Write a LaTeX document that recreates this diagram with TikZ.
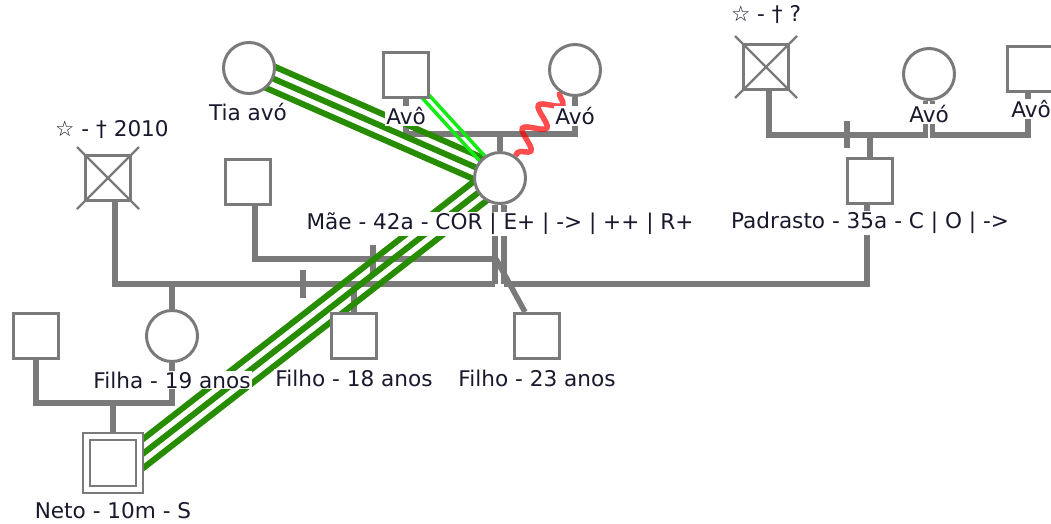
\documentclass[tikz,border=0pt]{standalone}
\usepackage{fontspec}
\setmainfont{DejaVu Sans}
\usetikzlibrary{calc,backgrounds,decorations.pathmorphing}
\definecolor{gline}{RGB}{122,122,122}
\definecolor{dgreen}{RGB}{40,140,0}
\definecolor{lgreen}{RGB}{20,235,20}
\definecolor{txt}{RGB}{25,25,45}
\tikzset{
  person/.style={draw=gline,line width=3pt,fill=white,inner sep=0pt},
  msq/.style={person,rectangle,minimum size=45pt},
  fcirc/.style={person,circle,minimum size=51pt},
  lbl/.style={fill=white,inner sep=1pt,text=txt,font=\fontsize{21.6}{24}\selectfont},
  fam/.style={draw=gline,line width=5.5pt},
  crossx/.style={draw=gline,line width=2.2pt},
  relstrong/.style={draw=dgreen,line width=6pt},
  relclose/.style={draw=lgreen,line width=3.5pt},
  relhostile/.style={draw=red,draw opacity=0.7,line width=5.5pt,decorate,
    decoration={snake,segment length=28pt,amplitude=10pt}},
}
\begin{document}
\begin{tikzpicture}[x=1pt,y=-1pt]
\useasboundingbox (0,0) rectangle (1051,523);
\clip (0,0) rectangle (1051,523);
% --- persons ---
\node[fcirc] (tia) at (249,68) {};
\node[lbl] (tial) at (248,112) {Tia avó};
\node[msq] (avo1) at (406,75) {};
\node[lbl] (avo1l) at (406,116) {Avô};
\node[fcirc] (ava1) at (575,70) {};
\node[lbl] (ava1l) at (575,116) {Avó};
\node[fcirc] (mae) at (500,178) {};
\node[lbl] (mael) at (500,224) {Mãe - 42a - COR | E+ | -> | ++ | R+};

\node[msq] (dec2) at (766,67) {};
\node[lbl] (dec2l) at (766,15) {☆ - † ?};
\node[fcirc] (ava2) at (929,74) {};
\node[lbl] (ava2l) at (929,114) {Avó};
\node[msq] (avo2) at (1030,69) {};
\node[lbl] (avo2l) at (1031,109) {Avô};
\node[msq] (pad) at (870,181) {};
\node[lbl] (padl) at (870,223) {Padrasto - 35a - C | O | ->};

\node[msq] (dec1) at (108,178) {};
\node[lbl] (dec1l) at (112,130) {☆ - † 2010};
\node[msq] (ex) at (248,182) {};
\node[fcirc] (filha) at (172,336) {};
\node[lbl] (filhal) at (172,380) {Filha - 19 anos};
\node[msq] (genro) at (36,336) {};
\node[msq] (f18) at (354,336) {};
\node[lbl] (f18l) at (354,378) {Filho - 18 anos};
\node[msq] (f23) at (537,336) {};
\node[lbl] (f23l) at (537,378) {Filho - 23 anos};
\node[msq,minimum size=60pt,line width=2.6pt] (neto) at (113,463) {};
\node[msq,minimum size=46pt,line width=2.6pt] (netoin) at (neto.center) {};
\node[lbl] (netol) at (113,511) {Neto - 10m - S};

% deceased crosses
\draw[crossx] ($(dec1.north west)+(-7,-7)$) -- ($(dec1.south east)+(7,7)$);
\draw[crossx] ($(dec1.north east)+(7,-7)$) -- ($(dec1.south west)+(-7,7)$);
\draw[crossx] ($(dec2.north west)+(-7,-7)$) -- ($(dec2.south east)+(7,7)$);
\draw[crossx] ($(dec2.north east)+(7,-7)$) -- ($(dec2.south west)+(-7,7)$);

\begin{pgfonlayer}{background}
% --- family lines ---
\coordinate (m1) at (500,134);
\draw[fam] (avo1) |- (m1) -| (ava1);
\draw[fam] (m1) -- (mae);

\coordinate (m2) at (870,135);
\coordinate (m2b) at (980,135);
\draw[fam] ([xshift=3pt]dec2.south) |- (m2) -| ([xshift=-3.5pt]ava2.south);
\draw[fam] ([xshift=3.5pt]ava2.south) |- (m2b) -| ([xshift=-2pt]avo2.south);
\draw[fam] (847,121) -- (847,148);
\draw[fam] (m2) -- (pad);

\coordinate (m3) at (496,259);
\coordinate (m4) at (495,284);
\coordinate (m5) at (504,284);
\draw[fam] ([xshift=-5pt]mae.south) -- (m4);
\draw[fam] ([xshift=4pt]mae.south) -- (m5);
\draw[fam] ([xshift=7pt]ex.south) |- (m3);
\draw[fam] ([xshift=7pt]dec1.south) |- (m4);
\draw[fam] (m5) -| ([xshift=-3pt]pad.south);
\draw[fam] (373,245) -- (373,273);
\draw[fam] (303,270) -- (303,298);
\draw[fam] (filha) -- (filha |- m4);
\draw[fam] (f18) -- (f18 |- m4);
\draw[fam] (m3) -- ([xshift=-12pt]f23.north);

\coordinate (m6) at (113,403);
\draw[fam] (genro) |- (m6) -| (filha);
\draw[fam] (m6) -- (neto);

% --- relationship lines ---
\draw[relstrong] (tia.center) -- (mae.center);
\draw[relstrong] ($(tia)!11.5pt!90:(mae)$) -- ($(mae)!11.5pt!-90:(tia)$);
\draw[relstrong] ($(tia)!11.5pt!-90:(mae)$) -- ($(mae)!11.5pt!90:(tia)$);

\coordinate (maeA) at ($(mae.center)+(-3,0)$);
\coordinate (netoA) at ($(neto.center)+(18,0)$);
\draw[relstrong] (maeA) -- (netoA);
\draw[relstrong] ($(maeA)!11.5pt!90:(netoA)$) -- ($(netoA)!11.5pt!-90:(maeA)$);
\draw[relstrong] ($(maeA)!11.5pt!-90:(netoA)$) -- ($(netoA)!11.5pt!90:(maeA)$);

\draw[relclose] ($(avo1)!3.5pt!90:(mae)$) -- ($(mae)!3.5pt!-90:(avo1)$);
\draw[relclose] ($(avo1)!3.5pt!-90:(mae)$) -- ($(mae)!3.5pt!90:(avo1)$);

\draw[relhostile] (ava1) -- (mae);
\end{pgfonlayer}
\end{tikzpicture}
\end{document}
